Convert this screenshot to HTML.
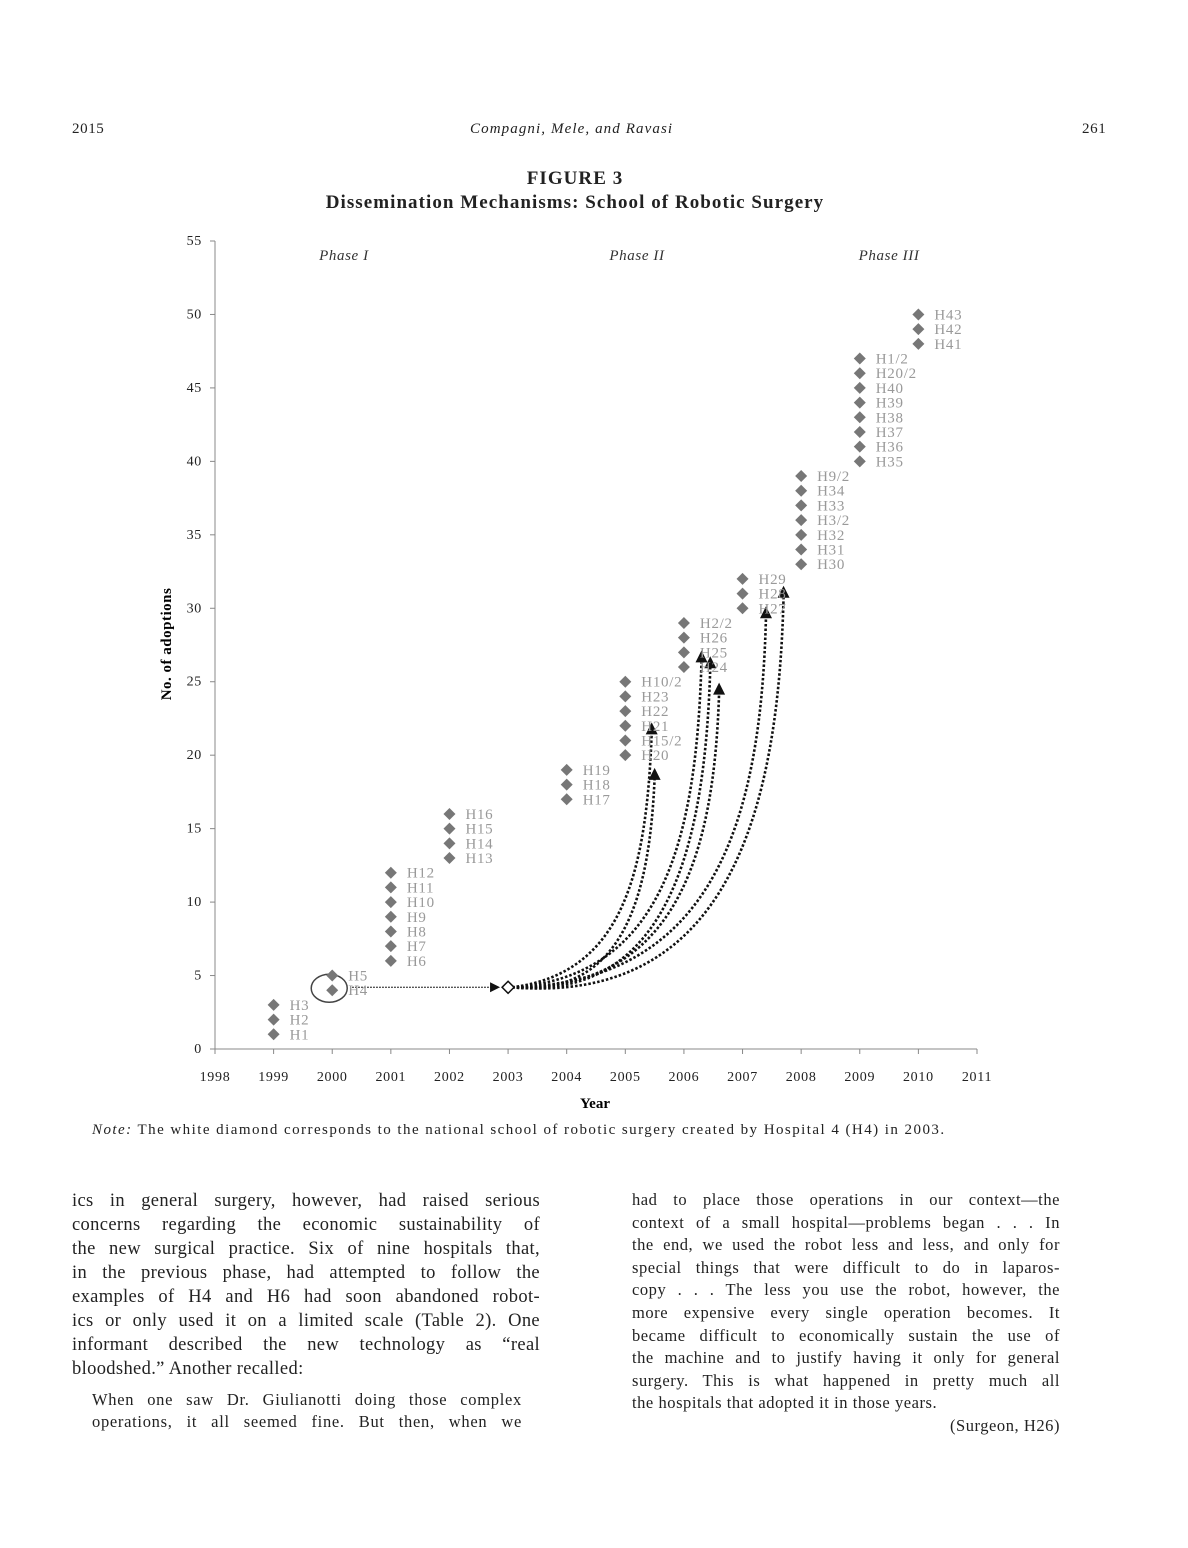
<!DOCTYPE html>
<html><head><meta charset="utf-8"><style>
body{margin:0;background:#fff;width:1188px;height:1548px;position:relative;font-family:"Liberation Serif",serif;color:#222;overflow:hidden}
.a{position:absolute}
.col{position:absolute}
.col div{text-align:justify;text-align-last:justify;white-space:nowrap}
.col div.l{text-align-last:left}
</style></head><body>
<div class="a" style="left:72px;top:121px;font-size:15px;letter-spacing:0.6px">2015</div>
<div class="a" style="left:470px;top:121px;font-size:15px;letter-spacing:1.1px;font-style:italic">Compagni, Mele, and Ravasi</div>
<div class="a" style="left:1082px;top:121px;font-size:15px;letter-spacing:0.6px">261</div>
<div class="a" style="left:0;width:1150px;top:167px;text-align:center;font-weight:bold;font-size:19px;letter-spacing:1.05px;line-height:24px">FIGURE 3<br>Dissemination Mechanisms: School of Robotic Surgery</div>
<svg class="a" style="left:0;top:0" width="1188" height="1130" id="chart" font-family="Liberation Serif, serif"></svg>
<div class="a" style="left:92px;top:1122px;font-size:15px;letter-spacing:1.45px"><i>Note:</i> The white diamond corresponds to the national school of robotic surgery created by Hospital 4 (H4) in 2003.</div>
<div class="col" style="left:72px;top:1189px;width:468px;font-size:18.5px;line-height:24px;letter-spacing:0.35px">
<div>ics in general surgery, however, had raised serious</div>
<div>concerns regarding the economic sustainability of</div>
<div>the new surgical practice. Six of nine hospitals that,</div>
<div>in the previous phase, had attempted to follow the</div>
<div>examples of H4 and H6 had soon abandoned robot-</div>
<div>ics or only used it on a limited scale (Table 2). One</div>
<div>informant described the new technology as “real</div>
<div class="l">bloodshed.” Another recalled:</div></div>
<div class="col" style="left:92px;top:1389px;width:430px;font-size:16.5px;line-height:22px;letter-spacing:0.7px">
<div>When one saw Dr. Giulianotti doing those complex</div>
<div>operations, it all seemed fine. But then, when we</div></div>
<div class="col" style="left:632px;top:1189px;width:428px;font-size:16.5px;line-height:22.6px;letter-spacing:0.55px">
<div>had to place those operations in our context—the</div>
<div>context of a small hospital—problems began . . . In</div>
<div>the end, we used the robot less and less, and only for</div>
<div>special things that were difficult to do in laparos-</div>
<div>copy . . . The less you use the robot, however, the</div>
<div>more expensive every single operation becomes. It</div>
<div>became difficult to economically sustain the use of</div>
<div>the machine and to justify having it only for general</div>
<div>surgery. This is what happened in pretty much all</div>
<div class="l">the hospitals that adopted it in those years.</div>
<div class="l" style="text-align:right;text-align-last:right">(Surgeon, H26)</div></div>
<script>
const years=[1999,1999,1999,2000,2000,2001,2001,2001,2001,2001,2001,2001,2002,2002,2002,2002,2004,2004,2004,2005,2005,2005,2005,2005,2005,2006,2006,2006,2006,2007,2007,2007,2008,2008,2008,2008,2008,2008,2008,2009,2009,2009,2009,2009,2009,2009,2009,2010,2010,2010];
const counts=[1,2,3,4,5,6,7,8,9,10,11,12,13,14,15,16,17,18,19,20,21,22,23,24,25,26,27,28,29,30,31,32,33,34,35,36,37,38,39,40,41,42,43,44,45,46,47,48,49,50];
const labels=["H1","H2","H3","H4","H5","H6","H7","H8","H9","H10","H11","H12","H13","H14","H15","H16","H17","H18","H19","H20","H15/2","H21","H22","H23","H10/2","H24","H25","H26","H2/2","H27","H28","H29","H30","H31","H32","H3/2","H33","H34","H9/2","H35","H36","H37","H38","H39","H40","H20/2","H1/2","H41","H42","H43"];
const arrowX=[2005.45,2005.5,2006.3,2006.45,2006.6,2007.4,2007.7];
const arrowY=[22.1,19,27,26.6,24.8,30,31.4];
const xTicks=[1998,1999,2000,2001,2002,2003,2004,2005,2006,2007,2008,2009,2010,2011];
const yTicks=[0,5,10,15,20,25,30,35,40,45,50,55];
const phases=[["Phase I",2000.2],["Phase II",2005.2],["Phase III",2009.5]];
const X=v=>215+(v-1998)*762/13, Y=v=>1049-v*808/55;
const svg=document.getElementById('chart');let h='';
h+=`<line x1="215" y1="1049" x2="977" y2="1049" stroke="#888"/>`;
h+=`<line x1="215" y1="241" x2="215" y2="1049" stroke="#888"/>`;
xTicks.forEach(t=>{h+=`<line x1="${X(t)}" y1="1049" x2="${X(t)}" y2="1054" stroke="#888"/><text x="${X(t)}" y="1081" font-size="14" letter-spacing="0.7" text-anchor="middle" fill="#222">${t}</text>`});
yTicks.forEach(t=>{h+=`<line x1="210" y1="${Y(t)}" x2="215" y2="${Y(t)}" stroke="#888"/><text x="202" y="${Y(t)+4}" font-size="14" letter-spacing="0.7" text-anchor="end" fill="#222">${t}</text>`});
h+=`<text x="595" y="1108" font-size="15" font-weight="bold" text-anchor="middle">Year</text>`;
h+=`<text transform="translate(171,644) rotate(-90)" font-size="15" letter-spacing="0.5" font-weight="bold" text-anchor="middle">No. of adoptions</text>`;
phases.forEach(p=>{h+=`<text x="${X(p[1])}" y="260" font-size="15" letter-spacing="0.6" font-style="italic" text-anchor="middle" fill="#333">${p[0]}</text>`});
const sx=X(2003),sy=Y(4.2);
h+=`<line x1="${X(2000)+20}" y1="${sy}" x2="${sx-14}" y2="${sy}" stroke="#222" stroke-width="1.3" stroke-dasharray="1.5 1.5"/>`;
h+=`<path d="M${sx-18},${sy-5}L${sx-8},${sy}L${sx-18},${sy+5}Z" fill="#111"/>`;
const offs=[-14,10,-10,14,3,-4,18];
arrowX.forEach((ax,i)=>{const ex=X(ax),ey=Y(arrowY[i])+8;const off=offs[i];
h+=`<path d="M${sx+4},${sy} C${sx+0.8*(ex-sx)},${sy+off} ${ex-5},${sy-0.45*(sy-ey)} ${ex},${ey}" fill="none" stroke="#111" stroke-width="2.6" stroke-dasharray="2.5 2"/>`;
h+=`<path d="M${ex-6},${ey+2}L${ex},${ey-10}L${ex+6},${ey+2}Z" fill="#111"/>`;});
h+=`<path d="M${sx},${sy-6}L${sx+6},${sy}L${sx},${sy+6}L${sx-6},${sy}Z" fill="#fff" stroke="#111" stroke-width="1.5"/>`;
h+=`<ellipse cx="${X(2000)-3}" cy="${Y(4)-2}" rx="18" ry="14" fill="none" stroke="#444" stroke-width="1.5"/>`;
years.forEach((yr,i)=>{const x=X(yr),y=Y(counts[i]);
h+=`<path d="M${x},${y-6}L${x+6},${y}L${x},${y+6}L${x-6},${y}Z" fill="#777"/>`;
h+=`<text x="${x+16}" y="${y+5}" font-size="15" letter-spacing="0.7" fill="#999">${labels[i]}</text>`;});
svg.innerHTML=h;
</script>
</body></html>
